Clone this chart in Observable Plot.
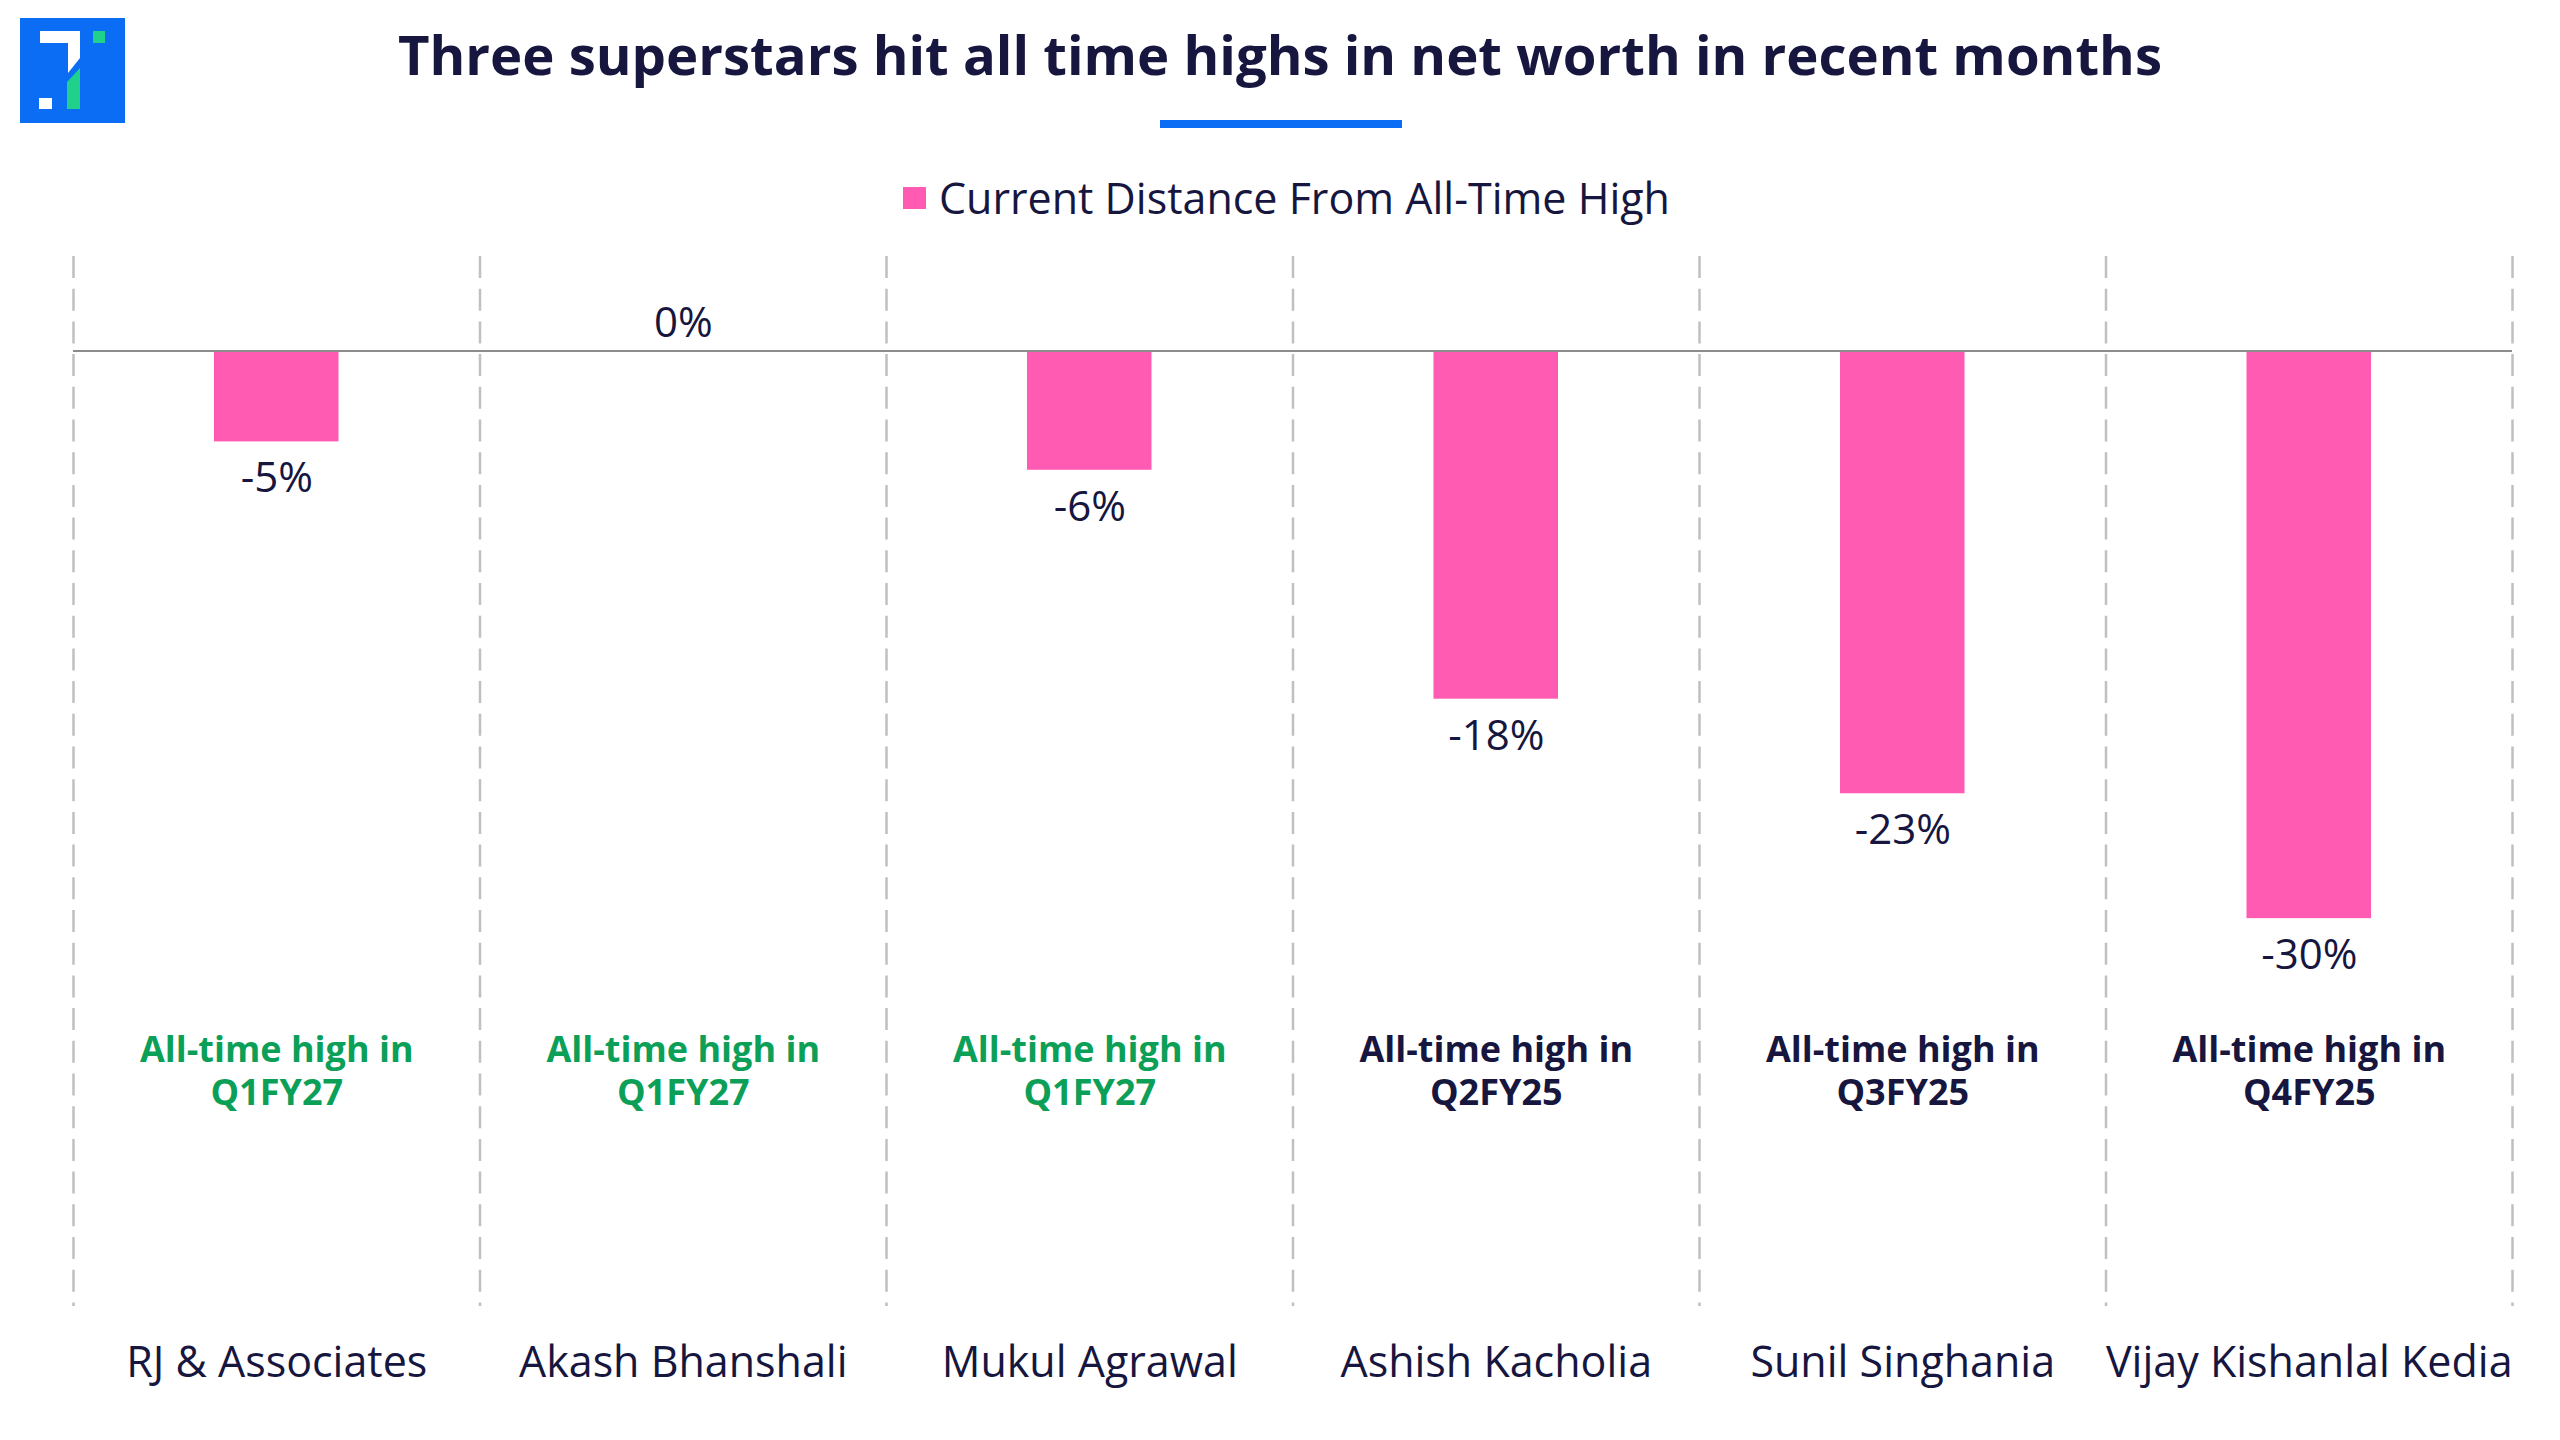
<!DOCTYPE html>
<html>
<head>
<meta charset="utf-8">
<script src="https://cdn.jsdelivr.net/npm/d3@7"></script>
<script src="https://cdn.jsdelivr.net/npm/@observablehq/plot@0.6"></script>
<style>
  html, body { margin: 0; padding: 0; background: #ffffff; }
  #page { position: relative; width: 2560px; height: 1440px; overflow: hidden; font-family: "Open Sans", sans-serif; color: #16163f; }
  #logo { position: absolute; left: 20px; top: 18px; }
  #title { position: absolute; left: 0; top: 27px; width: 2560px; text-align: center; font-size: 54.5px; line-height: 54px; font-weight: 700; color: #16163f; white-space: nowrap; }
  #underline { position: absolute; left: 1160px; top: 120px; width: 242px; height: 8px; background: #0b6cf4; }
  #legend { position: absolute; left: 903px; top: 176px; height: 43px; display: flex; align-items: center; font-size: 43px; line-height: 43px; color: #16163f; white-space: nowrap; }
  #legend .sw { width: 23px; height: 22px; background: #ff5bb3; margin-right: 13px; }
  #chart { position: absolute; left: 0; top: 230px; }
</style>
</head>
<body>
<div id="page">
  <svg id="logo" width="105" height="105" viewBox="0 0 105 105">
    <rect x="0" y="0" width="105" height="105" fill="#0b6cf4"/>
    <rect x="20" y="13" width="40" height="12" fill="#ffffff"/>
    <polygon points="48,25 60,25 60,40 48,55" fill="#ffffff"/>
    <polygon points="47,64 60,50 60,91 47,91" fill="#1fd18a"/>
    <rect x="19" y="80" width="13" height="11" fill="#ffffff"/>
    <rect x="73" y="13" width="12" height="12" fill="#1fd18a"/>
  </svg>
  <div id="title">Three superstars hit all time highs in net worth in recent months</div>
  <div id="underline"></div>
  <div id="legend"><div class="sw"></div><span>Current Distance From All-Time High</span></div>
  <div id="chart"></div>
</div>
<script>
const investors = ["RJ & Associates", "Akash Bhanshali", "Mukul Agrawal", "Ashish Kacholia", "Sunil Singhania", "Vijay Kishanlal Kedia"];
const distanceFromATH = [-4.8, 0, -6.3, -18.4, -23.4, -30.0];
const athQuarter = ["Q1FY27", "Q1FY27", "Q1FY27", "Q2FY25", "Q3FY25", "Q4FY25"];
const latestQuarter = "Q1FY27";

const rows = investors.map((name, i) => ({ i, name, value: distanceFromATH[i], quarter: athQuarter[i] }));
const edges = d3.range(investors.length + 1);

const navy = "#16163f";
const green = "#0b9f58";
const pink = "#ff5bb3";
const fmt = v => Math.round(v) + "%";

const chart = Plot.plot({
  width: 2560,
  height: 1210,
  marginTop: 26,
  marginBottom: 134,
  marginLeft: 73,
  marginRight: 48,
  style: { fontFamily: "Open Sans, sans-serif", background: "transparent", color: navy },
  x: { type: "linear", domain: [0, investors.length], axis: null },
  y: { domain: [-50.5, 5], axis: null },
  marks: [
    Plot.ruleX(edges, { x: d => d, stroke: "#c0c0c0", strokeWidth: 2.5, strokeDasharray: "22 10.7" }),
    Plot.rectY(rows, { x1: "i", x2: d => d.i + 1, y1: 0, y2: "value", insetLeft: 141, insetRight: 141, fill: pink }),
    Plot.ruleY([0], { stroke: "#8c8c8c", strokeWidth: 2 }),
    Plot.text(rows.filter(d => d.value < 0), { x: d => d.i + 0.5, y: "value", text: d => fmt(d.value), dy: 37, fontSize: 42, fill: navy }),
    Plot.text(rows.filter(d => d.value >= 0), { x: d => d.i + 0.5, y: "value", text: d => fmt(d.value), dy: -28, fontSize: 42, fill: navy }),
    Plot.text(rows, {
      x: d => d.i + 0.5, y: () => -38,
      text: d => "All-time high in\n" + d.quarter,
      fill: d => d.quarter === latestQuarter ? green : navy,
      fontSize: 36, fontWeight: 700, lineHeight: 1.18
    }),
    Plot.text(rows, { x: d => d.i + 0.5, frameAnchor: "bottom", dy: 70, text: "name", fontSize: 43, fill: navy })
  ]
});
document.getElementById("chart").appendChild(chart);
</script>
</body>
</html>
